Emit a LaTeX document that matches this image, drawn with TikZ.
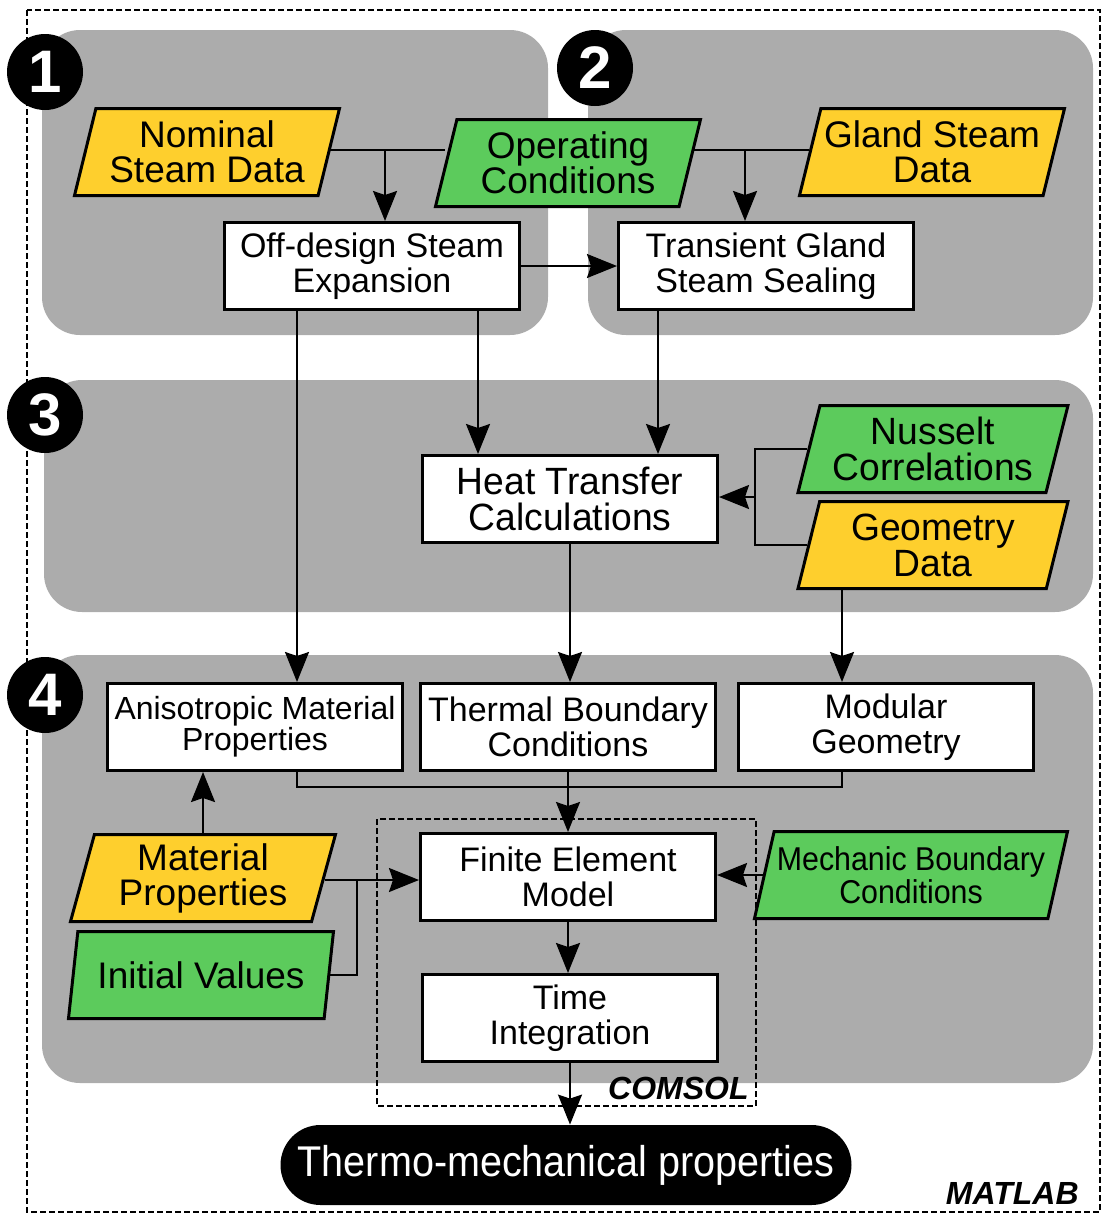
\documentclass[tikz,border=0pt]{standalone}
\usepackage{fontspec}
\setmainfont{Liberation Sans}
\newfontfamily\narrowfont[FakeStretch=0.92]{Liberation Sans}
\newfontfamily\tallfont[FakeStretch=0.98]{Liberation Sans}
\usetikzlibrary{shapes.geometric,arrows.meta,calc}
\definecolor{panelgray}{RGB}{172,172,172}
\definecolor{datayellow}{RGB}{254,207,45}
\definecolor{datagreen}{RGB}{92,203,92}
\pgfdeclarelayer{panels}
\pgfdeclarelayer{wires}
\pgfsetlayers{panels,wires,main}

\begin{document}
\begin{tikzpicture}[x=0.5pt,y=-0.5pt,
  panel/.style={fill=panelgray, rounded corners=19pt},
  dashframe/.style={dash pattern=on 3pt off 1.5pt, line width=0.6pt},
  badge/.style={circle, fill=black, text=white, minimum size=38pt, inner sep=0pt, font=\fontsize{30}{30}\selectfont\bfseries},
  procbox/.style={rectangle, draw=black, line width=1.5pt, fill=white, minimum width=147.5pt, minimum height=43.5pt, inner sep=0pt, align=center, font=\fontsize{17}{17.5}\selectfont},
  databox/.style={trapezium, trapezium left angle=71, trapezium right angle=109, trapezium stretches body, draw=black, line width=1.5pt, minimum width=132.5pt, minimum height=43.5pt, inner sep=0pt, align=center, font=\fontsize{18.5}{17.5}\selectfont},
  yellowdata/.style={databox, fill=datayellow},
  greendata/.style={databox, fill=datagreen},
  tallstyle/.style={font=\tallfont\fontsize{19}{18}\selectfont},
  pill/.style={rectangle, rounded corners=20pt, fill=black, text=white, minimum width=285.5pt, minimum height=40pt, font=\narrowfont\fontsize{21.5}{22}\selectfont},
  tag/.style={inner sep=0pt, font=\fontsize{16}{16}\selectfont\bfseries\itshape},
  wire/.style={line width=1pt},
  arrow/.style={wire, -{Stealth[length=15pt,width=12pt,inset=2pt]}}]

  \useasboundingbox (0,0) rectangle (1106,1216);

  % stages
  \begin{pgfonlayer}{panels}
    \draw [dashframe] (27,10) rectangle (1100,1212);
    \fill [panel] (42,30) rectangle (548,335);
    \fill [panel] (588,30) rectangle (1093,335);
    \fill [panel] (44,380) rectangle (1093,612);
    \fill [panel] (42,655) rectangle (1093,1083);
  \end{pgfonlayer}

  \node [badge] (b1) at (45,72) {1};
  \node [badge] (b2) at (595,68) {2};
  \node [badge] (b3) at (45,415) {3};
  \node [badge] (b4) at (45,695) {4};

  \node [yellowdata] (nominal) at (207,152) {Nominal\\Steam Data};
  \node [greendata] (operating) at (568,163) {Operating\\Conditions};
  \node [yellowdata] (gland) at (932,152) {Gland Steam\\Data};
  \node [procbox] (offdesign) at (372,266) {Off-design Steam\\Expansion};
  \node [procbox] (transient) at (766,266) {Transient Gland\\Steam Sealing};

  \node [procbox, tallstyle] (heat) at (570,499) {Heat Transfer\\Calculations};
  \node [greendata, tallstyle, minimum width=135pt] (nusselt) at (933,449) {Nusselt\\Correlations};
  \node [yellowdata, tallstyle, minimum width=135pt] (geometry) at (933,545) {Geometry\\Data};

  \node [procbox, font=\fontsize{16}{15.5}\selectfont] (aniso) at (255,727) {Anisotropic Material\\Properties};
  \node [procbox] (thermal) at (568,727) {Thermal Boundary\\Conditions};
  \node [procbox] (modular) at (886,727) {Modular\\Geometry};
  \node [yellowdata] (matprop) at (203,878) {Material\\Properties};
  \node [greendata] (initval) at (201,975) {Initial Values};
  \node [procbox] (fem) at (568,877) {Finite Element\\Model};
  \node [greendata, minimum width=156.5pt, font=\narrowfont\fontsize{16.5}{14.5}\selectfont] (mechbc) at (911,875) {Mechanic Boundary\\Conditions};
  \node [procbox] (timeint) at (570,1018) {Time\\Integration};
  \node [pill] (thermo) at (566,1165) {Thermo-mechanical properties};

  \node [tag, anchor=south east] (comsol) at (749,1100) {COMSOL};
  \node [tag, anchor=south east] (matlab) at (1079,1205) {MATLAB};

  \coordinate (jtop1) at (385,150);
  \coordinate (jtop2) at (745,150);
  \coordinate (xaniso) at (297,0);
  \coordinate (xheat1) at (478,0);
  \coordinate (xheat2) at (658,0);
  \coordinate (xgeo) at (842,0);
  \coordinate (hj) at (755,497);
  \coordinate (bus) at (568,787);
  \coordinate (ivj) at (357,880);

  \begin{pgfonlayer}{wires}
    \draw [dashframe, line width=0.8pt] (377,819) rectangle (756,1106);
    \draw [wire] (jtop1 -| nominal.east) -- (jtop1 -| operating.west);
    \draw [arrow] (jtop1) -- (jtop1 |- offdesign.north);
    \draw [wire] (jtop2 -| gland.west) -- (jtop2 -| operating.east);
    \draw [arrow] (jtop2) -- (jtop2 |- transient.north);
    \draw [arrow] (offdesign.east) -- (transient.west);
    \draw [arrow] (xaniso |- offdesign.south) -- (xaniso |- aniso.north);
    \draw [arrow] (xheat1 |- offdesign.south) -- (xheat1 |- heat.north);
    \draw [arrow] (xheat2 |- transient.south) -- (xheat2 |- heat.north);
    \draw [wire] (nusselt.west) -| (hj) |- (geometry.west);
    \draw [arrow] (hj) -- (hj -| heat.east);
    \draw [arrow] (heat.south) -- (heat.south |- thermal.north);
    \draw [arrow] (xgeo |- geometry.south) -- (xgeo |- modular.north);
    \draw [wire] (xaniso |- aniso.south) |- (bus) -| (xgeo |- modular.south);
    \draw [wire] (thermal.south) -- (thermal.south |- bus);
    \draw [arrow] (bus) -- (fem.north);
    \draw [arrow] (matprop.north) -- (matprop.north |- aniso.south);
    \draw [arrow] (ivj -| matprop.east) -- (ivj -| fem.west);
    \draw [wire] (initval.east) -| (ivj);
    \draw [arrow] (mechbc.west) -- (mechbc.west -| fem.east);
    \draw [arrow] (fem.south) -- (fem.south |- timeint.north);
    \draw [arrow] (timeint.south) -- (timeint.south |- thermo.north);
  \end{pgfonlayer}
\end{tikzpicture}
\end{document}
